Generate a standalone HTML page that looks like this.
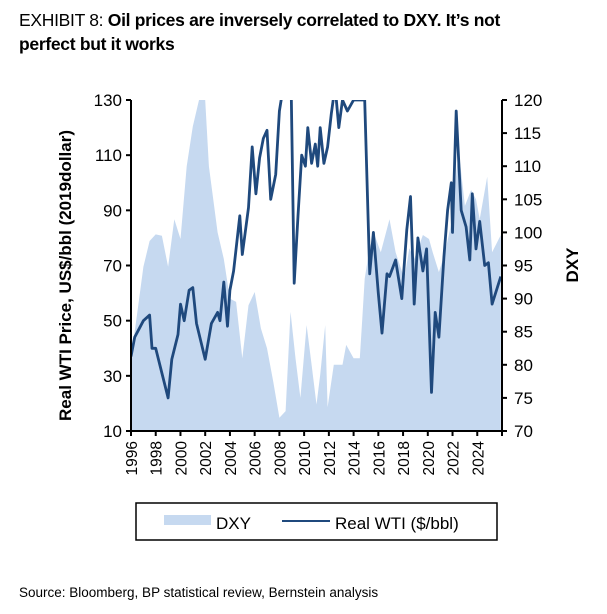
<!DOCTYPE html>
<html><head><meta charset="utf-8"><style>
body{margin:0;background:#fff;width:607px;height:614px;overflow:hidden;font-family:"Liberation Sans",sans-serif;}
#title{position:absolute;left:19px;top:8px;width:590px;font-size:17.5px;line-height:24px;font-weight:bold;color:#000;letter-spacing:-0.3px}
#title span{font-weight:normal}
#src{position:absolute;left:19px;top:585px;font-size:13.5px;color:#000}
svg{position:absolute;left:0;top:0}
</style></head><body>
<div id="title"><span>EXHIBIT 8: </span>Oil prices are inversely correlated to DXY. It’s not<br>perfect but it works</div>
<svg id="chart" width="607" height="614"></svg>
<div id="src">Source: Bloomberg, BP statistical review, Bernstein analysis</div>
<script>
const dxyYears=[1996,1996.5,1997,1997.5,1998,1998.5,1999,1999.5,2000,2000.5,2001,2001.5,2002,2002.3,2003,2003.5,2004,2004.5,2005,2005.5,2006,2006.5,2007,2007.5,2008,2008.5,2008.9,2009.3,2009.7,2010.2,2010.6,2011,2011.3,2011.7,2011.9,2012.4,2013.1,2013.4,2014,2014.5,2014.7,2014.9,2015.3,2015.7,2016.2,2016.9,2017.4,2018.1,2018.5,2018.9,2019.6,2020.1,2020.4,2020.9,2021.4,2021.9,2022.5,2023,2023.5,2023.9,2024.2,2024.8,2025.2,2025.9];
const dxyValues=[81,87.8,94.8,98.7,99.7,99.5,94.8,102,99,110,116,120,120,110,100,96,90,89.5,81,89,91,85.5,82.5,77.5,72,73,88,81,75,86,80,74,78.5,86,73.6,80,80,83,81,81,87,93,97.8,99.6,97,102,97,93,97.6,96,99.6,99,97,94,97,101.4,112.4,104,106.4,105,102,108.4,97,99.6];
const wtiYears=[1996,1996.3,1997,1997.5,1997.7,1998,1998.5,1999,1999.3,1999.8,2000,2000.3,2000.7,2001,2001.3,2002,2002.5,2003,2003.2,2003.5,2003.8,2004,2004.3,2004.8,2005,2005.5,2005.8,2006.1,2006.4,2006.7,2007,2007.3,2007.7,2008,2008.5,2008.9,2009.2,2009.5,2009.8,2010.1,2010.3,2010.6,2010.9,2011.1,2011.3,2011.6,2011.9,2012.2,2012.5,2012.8,2013.1,2013.5,2014,2014.5,2014.9,2015.3,2015.6,2016,2016.3,2016.7,2016.9,2017.4,2017.9,2018.3,2018.6,2018.9,2019.2,2019.6,2019.9,2020.3,2020.6,2020.9,2021.3,2021.6,2021.9,2022.0,2022.3,2022.7,2023.1,2023.4,2023.6,2023.9,2024.2,2024.6,2024.9,2025.2,2025.9];
const wtiValues=[37,44,50,52,40,40,31,22,36,45,56,50,61,62,49,36,49,53,50,64,48,61,68,88,74,91,113,96,109,116,119,94,103,126,140,150,63.6,88,110,106,120,107,114,106,120,107,113,125,135,120,130,126,130,130,130,67,82,60,45.5,67,66,72,58,83,95,56,80,68,76,24,53,44,73,90,100,82,126,90,84,72,96,76,86,70,71,56,66,55];
const X0=131,X1=502,Y0=100,Y1=431;
const xs=y=>X0+(y-1996)/30*(X1-X0);
const yl=v=>Y1-(v-10)/120*(Y1-Y0);
const yr=v=>Y1-(v-70)/50*(Y1-Y0);
const NS="http://www.w3.org/2000/svg";
const svg=document.getElementById('chart');
function mk(t,a,p){const e=document.createElementNS(NS,t);for(const k in a)e.setAttribute(k,a[k]);(p||svg).appendChild(e);return e;}
const defs=mk('defs',{});const cp=mk('clipPath',{id:'pc'},defs);mk('rect',{x:X0,y:Y0,width:X1-X0,height:Y1-Y0},cp);
let d='M'+xs(dxyYears[0])+','+Y1;
dxyYears.forEach((y,i)=>{d+=' L'+xs(y).toFixed(1)+','+yr(dxyValues[i]).toFixed(1);});
d+=' L'+xs(dxyYears[dxyYears.length-1])+','+Y1+' Z';
const area=mk('path',{d:d,fill:'#c6d9f0','clip-path':'url(#pc)'});


let l='';wtiYears.forEach((y,i)=>{l+=(i?' L':'M')+xs(y).toFixed(1)+','+yl(wtiValues[i]).toFixed(1);});
const line=mk('path',{d:l,fill:'none',stroke:'#1f497d','stroke-width':2.8,'stroke-linejoin':'round','clip-path':'url(#pc)'});


mk('line',{x1:X0,y1:Y0,x2:X0,y2:Y1+1,stroke:'#000','stroke-width':2});
mk('line',{x1:X1,y1:Y0,x2:X1,y2:Y1+1,stroke:'#000','stroke-width':2});
mk('line',{x1:X0-1,y1:Y1,x2:X1+1,y2:Y1,stroke:'#000','stroke-width':2});
const leftTicks=[10,30,50,70,90,110,130];
const rightTicks=[70,75,80,85,90,95,100,105,110,115,120];
const xTicks=[1996,1998,2000,2002,2004,2006,2008,2010,2012,2014,2016,2018,2020,2022,2024];
leftTicks.forEach(v=>{mk('line',{x1:X0-5,y1:yl(v),x2:X0,y2:yl(v),stroke:'#000','stroke-width':2});
const t=mk('text',{x:X0-9,y:yl(v)+6,'text-anchor':'end','font-size':17,fill:'#000'});t.textContent=v;

});
rightTicks.forEach(v=>{mk('line',{x1:X1,y1:yr(v),x2:X1+5,y2:yr(v),stroke:'#000','stroke-width':2});
const t=mk('text',{x:X1+12,y:yr(v)+6,'text-anchor':'start','font-size':17,fill:'#000'});t.textContent=v;

});
xTicks.concat([2026]).forEach(y=>{mk('line',{x1:xs(y),y1:Y1,x2:xs(y),y2:Y1+5,stroke:'#000','stroke-width':2});});
xTicks.forEach(y=>{const t=mk('text',{x:0,y:0,'text-anchor':'end','font-size':15.5,fill:'#000',transform:`translate(${xs(y)+6},${Y1+10}) rotate(-90)`});t.textContent=y;

});
const ylab=mk('text',{x:0,y:0,'text-anchor':'middle','font-size':17,'font-weight':'bold',fill:'#000',transform:`translate(71,${(Y0+Y1)/2+10}) rotate(-90)`});ylab.textContent='Real WTI Price, US$/bbl (2019dollar)';


const rlab=mk('text',{x:0,y:0,'text-anchor':'middle','font-size':17,'font-weight':'bold',fill:'#000',transform:`translate(578,265) rotate(-90)`});rlab.textContent='DXY';


const lg=mk('g',{});


mk('rect',{x:136,y:503,width:361,height:37,fill:'#fff',stroke:'#000','stroke-width':1.5},lg);
mk('rect',{x:164,y:515,width:47,height:10,fill:'#c6d9f0'},lg);
const t1=mk('text',{x:216,y:529,'font-size':17,fill:'#000'},lg);t1.textContent='DXY';


mk('line',{x1:282,y1:521,x2:330,y2:521,stroke:'#1f497d','stroke-width':2},lg);
const t2=mk('text',{x:335,y:529,'font-size':17,fill:'#000'},lg);t2.textContent='Real WTI ($/bbl)';


</script>
</body></html>
